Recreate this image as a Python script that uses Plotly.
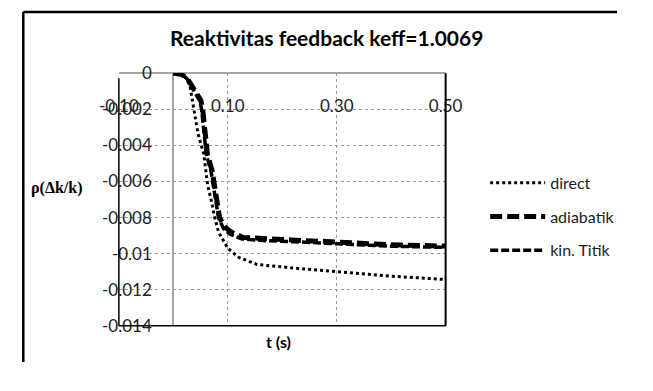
import plotly.graph_objects as go

# ---- data ----
direct_t = [0, 0.015, 0.025, 0.031, 0.035, 0.045, 0.056, 0.063, 0.070, 0.076, 0.083, 0.090,
            0.100, 0.120, 0.154, 0.223, 0.300, 0.396, 0.500]
direct_rho = [0, -0.00005, -0.0003, -0.0008, -0.0015, -0.0033, -0.0045, -0.0062, -0.0071,
              -0.0080, -0.0088, -0.0092, -0.0097, -0.0102, -0.0106, -0.0108, -0.0110,
              -0.01124, -0.01143]

adiabatik_t = [0, 0.015, 0.026, 0.037, 0.0505, 0.054, 0.059, 0.0626, 0.0713, 0.0756, 0.080,
               0.085, 0.094, 0.106, 0.128, 0.172, 0.223, 0.300, 0.396, 0.500]
adiabatik_rho = [0, -0.00005, -0.0003, -0.00084, -0.0015, -0.0020, -0.0033, -0.0045, -0.0054,
                 -0.0062, -0.0071, -0.0080, -0.0085, -0.0088, -0.0091, -0.0092, -0.00925,
                 -0.00935, -0.0095, -0.00958]

kintitik_t = [0, 0.015, 0.025, 0.035, 0.048, 0.052, 0.057, 0.0605, 0.069, 0.0735, 0.078,
              0.083, 0.092, 0.104, 0.126, 0.170, 0.223, 0.300, 0.396, 0.500]
kintitik_rho = [0, -0.00005, -0.0003, -0.00084, -0.0015, -0.0020, -0.0033, -0.0045, -0.0054,
                -0.0062, -0.0071, -0.0080, -0.0086, -0.00892, -0.00918, -0.00928, -0.00934,
                -0.00944, -0.00958, -0.00965]

x_tick_vals = [-0.1, 0.1, 0.3, 0.5]
x_tick_text = ["-0.10", "0.10", "0.30", "0.50"]
y_tick_vals = [0, -0.002, -0.004, -0.006, -0.008, -0.01, -0.012, -0.014]
y_tick_text = ["0", "-0.002", "-0.004", "-0.006", "-0.008", "-0.01", "-0.012", "-0.014"]

# the page keeps an 8px body margin: the figure is sized to fit inside the window
OFF = 8
W, H = 634, 372
px = lambda v: (v - OFF) / W
py = lambda v: 1 - (v - OFF) / H

fig = go.Figure()
fig.add_trace(go.Scatter(x=direct_t, y=direct_rho, name="direct", mode="lines",
                         line=dict(color="black", width=3, dash="dot"), legendgroup="a"))
fig.add_trace(go.Scatter(x=adiabatik_t, y=adiabatik_rho, name="adiabatik", mode="lines",
                         line=dict(color="black", width=5, dash="12px,5px"), legendgroup="b"))
fig.add_trace(go.Scatter(x=kintitik_t, y=kintitik_rho, name="kin. Titik", mode="lines",
                         line=dict(color="black", width=3.5, dash="8px,3px"), legendgroup="c"))
# invisible helper traces so the offset label axes are drawn
fig.add_trace(go.Scatter(x=[0], y=[0], xaxis="x2", yaxis="y", showlegend=False,
                         mode="markers", marker=dict(opacity=0), hoverinfo="skip"))
fig.add_trace(go.Scatter(x=[0], y=[0], xaxis="x", yaxis="y2", showlegend=False,
                         mode="markers", marker=dict(opacity=0), hoverinfo="skip"))

tickfont = dict(family="Lato", size=17, color="#222")
grid = dict(gridcolor="#9a9a9a", griddash="dot", gridwidth=1)

fig.update_layout(
    width=W, height=H, margin=dict(l=0, r=0, t=0, b=0),
    paper_bgcolor="white", plot_bgcolor="white",
    showlegend=True,
    xaxis=dict(domain=[px(113), px(460)], range=[-0.1, 0.5], tickvals=x_tick_vals,
               showticklabels=False, ticks="", showline=False,
               zeroline=True, zerolinecolor="#a6a6a6", zerolinewidth=2, **grid),
    xaxis2=dict(overlaying="x", matches="x", anchor="free", position=py(96),
                tickvals=x_tick_vals, ticktext=x_tick_text, tickfont=tickfont,
                showgrid=False, zeroline=False, showline=False, ticks=""),
    yaxis=dict(domain=[py(341.7), py(74)], range=[-0.014, 0], tickvals=y_tick_vals,
               showticklabels=False, ticks="", showline=False,
               zeroline=True, zerolinecolor="#a6a6a6", zerolinewidth=2, **grid),
    yaxis2=dict(overlaying="y", matches="y", anchor="free", position=px(148),
                tickvals=y_tick_vals, ticktext=y_tick_text, tickfont=tickfont,
                showgrid=False, zeroline=False, showline=False, ticks=""),
    legend=dict(x=px(502), y=py(172), xanchor="left", yanchor="top",
                font=dict(family="Lato", size=16, color="#222"),
                tracegroupgap=10, itemwidth=55, bgcolor="rgba(0,0,0,0)"),
    annotations=[
        dict(text="<b>Reaktivitas feedback keff=1.0069</b>", x=px(333), y=py(36),
             xref="paper", yref="paper", showarrow=False, xanchor="center", yanchor="middle",
             font=dict(family="Lato", size=21, color="black")),
        dict(text="<b>ρ(Δk/k)</b>", x=px(47), y=py(196), xref="paper", yref="paper",
             showarrow=False, xanchor="center", yanchor="middle",
             font=dict(family="Liberation Serif", size=16, color="black")),
        dict(text="<b>t (s)</b>", x=px(283), y=py(358), xref="paper", yref="paper",
             showarrow=False, xanchor="center", yanchor="middle",
             font=dict(family="Lato", size=16, color="black")),
    ],
    shapes=[
        # outer chart border (top & left visible)
        dict(type="line", xref="paper", yref="paper", x0=px(11.5), x1=1, y0=0.997, y1=0.997,
             line=dict(color="black", width=2.5)),
        dict(type="line", xref="paper", yref="paper", x0=px(11.5), x1=px(11.5), y0=0.997, y1=0,
             line=dict(color="black", width=2.5)),
        # plot frame
        dict(type="line", xref="x domain", yref="y domain", x0=0, x1=0, y0=0, y1=0.98,
             line=dict(color="black", width=1.5)),
        dict(type="line", xref="x domain", yref="y domain", x0=1, x1=1, y0=0, y1=1,
             line=dict(color="black", width=2)),
        dict(type="line", xref="x domain", yref="y domain", x0=0, x1=1, y0=0, y1=0,
             line=dict(color="black", width=1.5)),
    ],
)

fig.write_html("out.html")
